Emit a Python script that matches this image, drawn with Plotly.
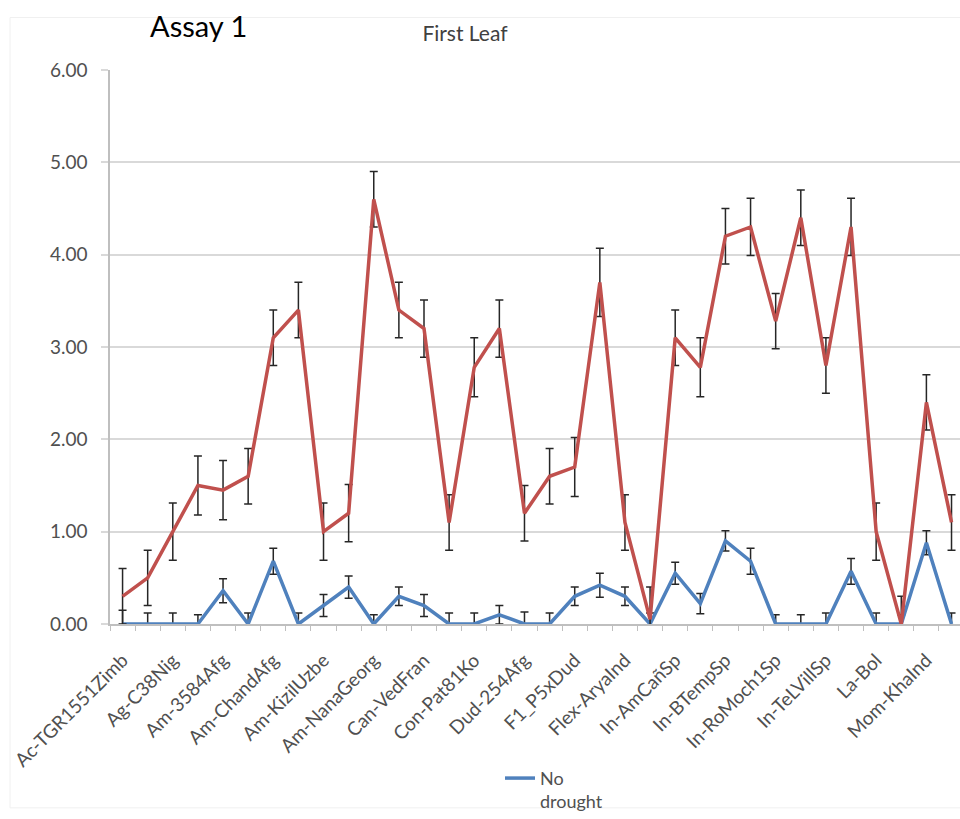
import plotly.graph_objects as go

# Genotypes in plotting order (34 entries); only every other one carries a label
label_positions = list(range(0, 34, 2))
label_text = [
    "Ac-TGR1551Zimb", "Ag-C38Nig", "Am-3584Afg", "Am-ChandAfg", "Am-KizilUzbe",
    "Am-NanaGeorg", "Can-VedFran", "Con-Pat81Ko", "Dud-254Afg", "F1_P5xDud",
    "Flex-AryaInd", "In-AmCañSp", "In-BTempSp", "In-RoMoch1Sp", "In-TeLVillSp",
    "La-Bol", "Mom-KhaInd",
]
genotype_index = list(range(34))

# Drought treatment: means and standard errors
drought_mean = [
    0.30, 0.50, 1.00, 1.50, 1.45, 1.60, 3.10, 3.40, 1.00, 1.20,
    4.60, 3.40, 3.20, 1.10, 2.78, 3.20, 1.20, 1.60, 1.70, 3.70,
    1.10, 0.05, 3.10, 2.78, 4.20, 4.30, 3.28, 4.40, 2.80, 4.30,
    1.00, 0.00, 2.40, 1.10,
]
drought_err = [
    0.30, 0.30, 0.31, 0.32, 0.32, 0.30, 0.30, 0.30, 0.31, 0.31,
    0.30, 0.30, 0.31, 0.30, 0.32, 0.31, 0.30, 0.30, 0.32, 0.37,
    0.30, 0.35, 0.30, 0.32, 0.30, 0.31, 0.30, 0.30, 0.30, 0.31,
    0.31, 0.30, 0.30, 0.30,
]

# No-drought control: means and standard errors
control_mean = [
    0.00, 0.00, 0.00, 0.00, 0.36, 0.00, 0.68, 0.00, 0.20, 0.40,
    0.00, 0.30, 0.20, 0.00, 0.00, 0.10, 0.00, 0.00, 0.30, 0.42,
    0.30, 0.00, 0.55, 0.22, 0.90, 0.68, 0.00, 0.00, 0.00, 0.57,
    0.00, 0.00, 0.88, 0.00,
]
control_err = [
    0.15, 0.12, 0.12, 0.10, 0.13, 0.12, 0.14, 0.12, 0.12, 0.12,
    0.10, 0.10, 0.12, 0.12, 0.12, 0.10, 0.13, 0.12, 0.10, 0.13,
    0.10, 0.12, 0.12, 0.11, 0.11, 0.14, 0.10, 0.10, 0.12, 0.14,
    0.12, 0.10, 0.13, 0.12,
]

W, H = 960, 819
L, R, T, B = 110, 0, 69.5, 195
cat_w = 25.12
x_max = -0.5 + (W - L - R) / cat_w

font_main = "Lato, 'Open Sans', sans-serif"
tick_grey = "#505050"

fig = go.Figure()

fig.add_trace(go.Scatter(
    x=genotype_index, y=control_mean, mode="lines", name="No<br>drought",
    line=dict(color="#4F81BD", width=3.5),
    error_y=dict(type="data", array=control_err, color="#262626",
                 thickness=1.5, width=4),
))
fig.add_trace(go.Scatter(
    x=genotype_index, y=drought_mean, mode="lines", name="Drought",
    showlegend=False,
    line=dict(color="#C0504D", width=3.5),
    error_y=dict(type="data", array=drought_err, color="#262626",
                 thickness=1.5, width=4),
))

fig.update_layout(
    width=W, height=H,
    margin=dict(l=L, r=R, t=T, b=B, autoexpand=False),
    paper_bgcolor="white", plot_bgcolor="white",
    font=dict(family=font_main, color=tick_grey, size=17),
    title=dict(text="First Leaf", x=465 / W, xref="container", xanchor="center",
               y=1 - 34 / H, yref="container", yanchor="middle",
               font=dict(family=font_main, size=21, color="#404040")),
    showlegend=True,
    legend=dict(x=(500 - L) / (W - L - R), xanchor="left",
                y=(H - B - 760) / (H - T - B), yanchor="top",
                valign="top", bgcolor="rgba(0,0,0,0)",
                font=dict(family=font_main, size=18, color=tick_grey)),
    xaxis=dict(
        range=[-0.5, x_max], showgrid=False, zeroline=False, automargin=False,
        tickmode="array", tickvals=label_positions, ticktext=label_text,
        tickangle=-45, ticks="", showline=True, linecolor="#BFBFBF", linewidth=1.5,
        ticklabelstandoff=16,
        tickfont=dict(family=font_main, size=19, color=tick_grey),
        minor=dict(ticks="outside", ticklen=5, tickcolor="#BFBFBF", tickwidth=1,
                   tick0=0.5, dtick=1, showgrid=False),
    ),
    yaxis=dict(
        range=[0, 6], tickmode="array", tickvals=[0, 1, 2, 3, 4, 5, 6],
        tickformat=".2f", showgrid=True, gridcolor="#D9D9D9", gridwidth=2,
        zeroline=False, showline=True, linecolor="#BFBFBF", linewidth=1.5,
        automargin=False,
        ticks="outside", ticklen=7, tickcolor="#D9D9D9", tickwidth=2,
        ticklabelstandoff=10,
        tickfont=dict(family=font_main, size=19, color=tick_grey),
    ),
)

# Faint outline of the chart area
fig.add_shape(type="rect", xref="paper", yref="paper",
              x0=(10 - L) / (W - L - R), x1=1.02,
              y0=(H - B - 808) / (H - T - B), y1=(H - B - 17) / (H - T - B),
              line=dict(color="#F0F0F0", width=1), layer="below")

fig.add_annotation(text="Assay 1", xref="paper", yref="paper",
                   x=(148 - L) / (W - L - R), xanchor="left",
                   y=(H - B - 25) / (H - T - B), yanchor="middle",
                   showarrow=False,
                   font=dict(family=font_main, size=29, color="#000000"))

fig.write_html("out.html")
